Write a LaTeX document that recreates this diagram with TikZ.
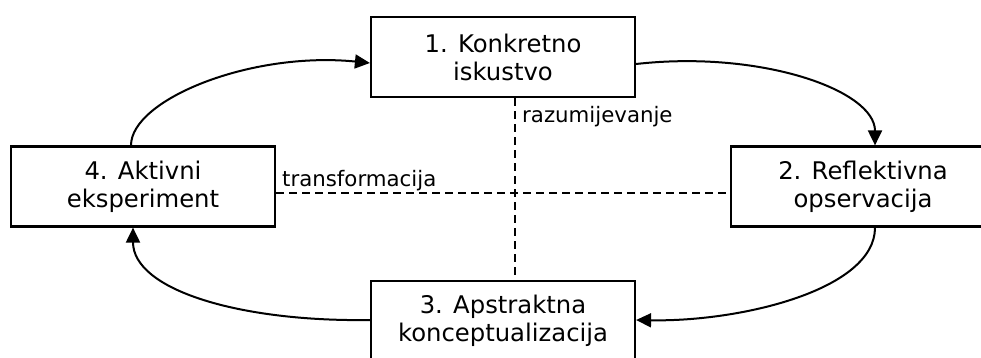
\documentclass[tikz,border=0pt]{standalone}
\usepackage{fontspec}
\setmainfont{DejaVu Sans}
\usetikzlibrary{arrows.meta}
\begin{document}
\begin{tikzpicture}[x=1pt,y=-1pt,
  stagebox/.style={draw,line width=2.2pt,rectangle,minimum width=264pt,minimum height=80pt,
    inner sep=0pt,align=center,font=\fontsize{24.3}{28}\selectfont},
  cyc/.style={line width=2pt,-{Triangle[length=15pt,width=14pt]}},
  axisdash/.style={line width=2pt,dash pattern=on 8pt off 5pt},
  lbl/.style={font=\fontsize{21.3}{25}\selectfont,inner sep=0pt}]
\useasboundingbox (0,0) rectangle (981,358);
\clip (0,0) rectangle (981,358);
\node[stagebox] (b1) at (503,57) {1. Konkretno\\iskustvo};
\node[stagebox] (b2) at (863,186.5) {2. Reflektivna\\opservacija};
\node[stagebox] (b3) at (503,321) {3. Apstraktna\\konceptualizacija};
\node[stagebox] (b4) at (143,186.5) {4. Aktivni\\eksperiment};
% dashed axes
\draw[axisdash] ([xshift=12pt]b1.south) -- ([xshift=12pt]b3.north);
\draw[axisdash] ([yshift=-6.5pt]b4.east) -- ([yshift=-6.5pt]b2.west);
\node[lbl,anchor=base west] (t1) at (282,186) {transformacija};
\node[lbl,anchor=base west] (t2) at (522,123) {razumijevanje};
% cycle arrows
\draw[cyc] ([xshift=-12pt]b4.north) .. controls (131,100) and (250,51) .. ([yshift=-6pt]b1.west);
\draw[cyc] ([yshift=-7pt]b1.east) .. controls (760,50) and (875,90) .. ([xshift=12pt]b2.north);
\draw[cyc] ([xshift=12pt]b2.south) .. controls (875,290) and (740,322) .. ([yshift=1pt]b3.east);
\draw[cyc] ([yshift=1pt]b3.west) .. controls (240,322) and (133,290) .. ([xshift=-10pt]b4.south);
\end{tikzpicture}
\end{document}
